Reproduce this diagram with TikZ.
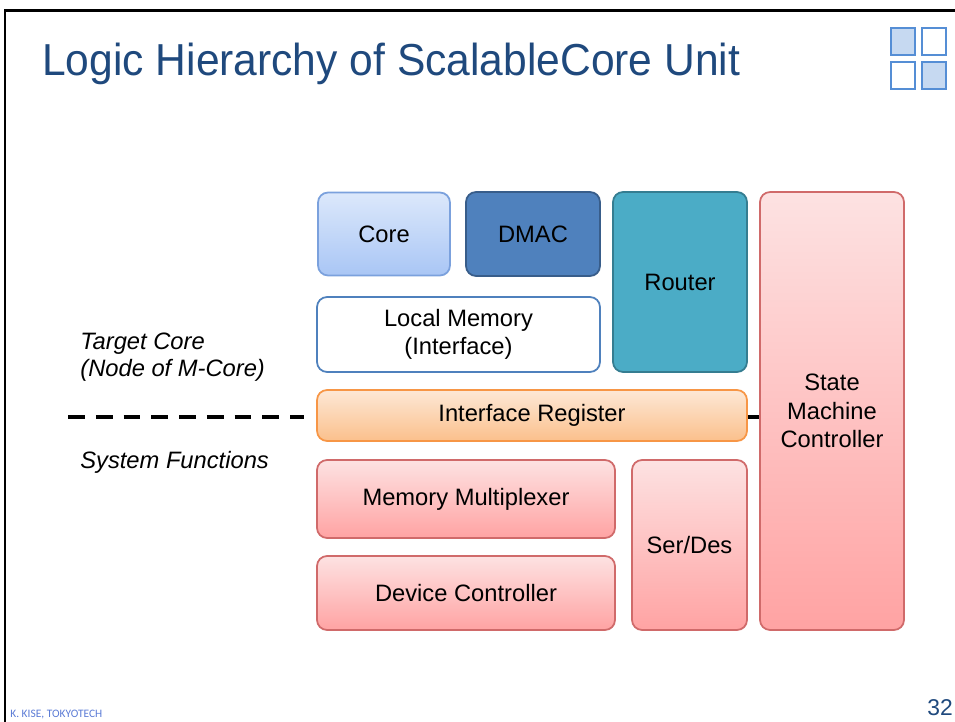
\documentclass[tikz,border=0pt]{standalone}
\usepackage{fontspec}
\setmainfont{Liberation Sans}
\newfontfamily\footfont{Carlito}
\definecolor{titleblue}{HTML}{1F497D}
\definecolor{logoblue}{HTML}{558ED5}
\definecolor{logofill}{HTML}{C6D9F1}
\definecolor{corefill}{HTML}{DCE8FB}
\definecolor{corefilldark}{HTML}{A9C6F5}
\definecolor{coreline}{HTML}{7BA1DD}
\definecolor{dmacfill}{HTML}{4F81BD}
\definecolor{dmacline}{HTML}{385D8A}
\definecolor{routerfill}{HTML}{4BACC6}
\definecolor{routerline}{HTML}{357D91}
\definecolor{pinktop}{HTML}{FDE2E2}
\definecolor{pinkbot}{HTML}{FFA3A3}
\definecolor{pinkline}{HTML}{D06A6A}
\definecolor{orangetop}{HTML}{FDE8D6}
\definecolor{orangebot}{HTML}{FBC08C}
\definecolor{orangeline}{HTML}{F79646}
\definecolor{footblue}{HTML}{5B7BD5}
\begin{document}
\begin{tikzpicture}[x=0.02cm,y=-0.02cm,
    blk/.style={rectangle,rounded corners=0.2cm,line width=1pt,align=center,
      font=\fontsize{13.5}{16.2}\selectfont,inner sep=0pt},
    coreblk/.style={blk,draw=coreline,top color=corefill,bottom color=corefilldark},
    dmacblk/.style={blk,draw=dmacline,fill=dmacfill},
    routerblk/.style={blk,draw=routerline,fill=routerfill},
    memblk/.style={blk,draw=dmacfill,fill=white},
    regblk/.style={blk,draw=orangeline,top color=orangetop,bottom color=orangebot},
    sysblk/.style={blk,draw=pinkline,top color=pinktop,bottom color=pinkbot},
    logo/.style={draw=logoblue,line width=0.8pt},
    side/.style={font=\fontsize{13.5}{15.3}\selectfont\itshape,align=left,inner sep=0pt},
    divider/.style={line width=2.3pt,dash pattern=on 9.6pt off 6.2pt}]
  \useasboundingbox (0,0) rectangle (955,722);

  % slide frame
  \draw[line width=1.7pt] (5,722) -- (5,11) -- (955,11);

  % title and logo
  \node[anchor=base west,inner sep=0pt,text=titleblue,xscale=0.95,
    font=\fontsize{25.5}{30}\selectfont] (title) at (42,76) {Logic Hierarchy of ScalableCore Unit};
  \draw[logo,fill=logofill] (891,28) rectangle (915,55);
  \draw[logo] (922,28) rectangle (946,55);
  \draw[logo] (891,62) rectangle (915,89);
  \draw[logo,fill=logofill] (922,62) rectangle (946,89);

  % upper part
  \node[coreblk,minimum width=2.64cm,minimum height=1.66cm] (core) at (384,234) {Core};
  \node[dmacblk,minimum width=2.68cm,minimum height=1.68cm] (dmac) at (533,234) {DMAC};
  \node[routerblk,minimum width=2.68cm,minimum height=3.6cm] (router) at (680,282) {Router};
  \node[memblk,minimum width=5.66cm,minimum height=1.5cm] (lmem) at (458.5,334.5)
    {Local Memory\\(Interface)};

  % boundary
  \node[regblk,minimum width=8.6cm,minimum height=1.02cm] (ireg) at (532,415.5)
    {Interface Register};

  % lower part
  \node[sysblk,minimum width=2.88cm,minimum height=8.76cm] (smc) at (832,411)
    {State\\Machine\\Controller};
  \node[sysblk,minimum width=5.96cm,minimum height=1.56cm] (mmux) at (466,499)
    {Memory Multiplexer};
  \node[sysblk,minimum width=2.3cm,minimum height=3.4cm] (serdes) at (689.5,545) {Ser/Des};
  \node[sysblk,minimum width=5.96cm,minimum height=1.48cm] (devctl) at (466,593)
    {Device Controller};

  % dashed border between the two layers
  \coordinate (dstart) at (68,417);
  \draw[divider,shorten >=7pt] (dstart) -- (dstart -| ireg.west);
  \draw[line width=2.3pt] (dstart -| ireg.east) -- (dstart -| smc.west);

  \node[side,anchor=west] (target) at (80,357) {Target Core\\(Node of M-Core)};
  \node[side,anchor=west] (sysfn) at (80,462) {System Functions};

  % footer
  \node[anchor=base west,inner sep=0pt,text=footblue,font=\footfont\fontsize{6.5}{8}\selectfont]
    (author) at (10,717) {K. KISE, TOKYOTECH};
  \node[anchor=base west,inner sep=0pt,text=titleblue,font=\fontsize{13}{16}\selectfont]
    (page) at (927,715) {32};
\end{tikzpicture}
\end{document}
